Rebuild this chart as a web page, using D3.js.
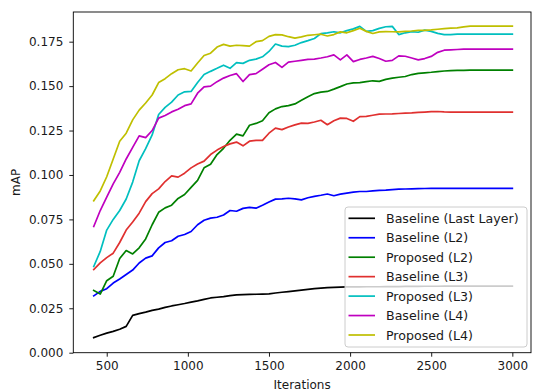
<!DOCTYPE html>
<html>
<head>
<meta charset="utf-8">
<script src="https://cdn.jsdelivr.net/npm/d3@7"></script>
<style>
  body { margin: 0; background: #fff; }
  svg { display: block; }
  text { font-family: "DejaVu Sans", sans-serif; fill: #1a1a1a; }
</style>
</head>
<body>
<svg id="chart" width="533" height="391"></svg>
<script>
// Training iterations at which mAP was evaluated
const iterations = [...d3.range(420, 2981, 40), 3000];

// mAP per iteration for each configuration
const baselineLast = [
  0.0085, 0.0098, 0.0110, 0.0120, 0.0132, 0.0148, 0.0210, 0.0220, 0.0228, 0.0238,
  0.0245, 0.0255, 0.0263, 0.0270, 0.0277, 0.0285, 0.0292, 0.0300, 0.0308, 0.0312,
  0.0316, 0.0321, 0.0325, 0.0327, 0.0328, 0.0329, 0.0330, 0.0331, 0.0336, 0.0340,
  0.0344, 0.0348, 0.0352, 0.0356, 0.0360, 0.0363, 0.0366, 0.0368, 0.0369, 0.0370,
  0.0370, 0.0370, 0.0371, 0.0371, 0.0371, 0.0372, 0.0372, 0.0372, 0.0373, 0.0373,
  0.0373, 0.0374, 0.0374, 0.0374, 0.0375, 0.0375, 0.0375, 0.0375, 0.0375, 0.0375,
  0.0375, 0.0375, 0.0375, 0.0375, 0.0375, 0.0375
];
const baselineL2 = [
  0.0320, 0.0345, 0.0360, 0.0392, 0.0415, 0.0440, 0.0465, 0.0505, 0.0532, 0.0545,
  0.0590, 0.0620, 0.0630, 0.0655, 0.0665, 0.0682, 0.0720, 0.0745, 0.0757, 0.0762,
  0.0775, 0.0800, 0.0796, 0.0812, 0.0818, 0.0813, 0.0830, 0.0848, 0.0864, 0.0866,
  0.0869, 0.0866, 0.0860, 0.0872, 0.0880, 0.0886, 0.0893, 0.0883, 0.0892, 0.0898,
  0.0903, 0.0907, 0.0907, 0.0910, 0.0913, 0.0915, 0.0918, 0.0920, 0.0921, 0.0922,
  0.0923, 0.0924, 0.0925, 0.0925, 0.0925, 0.0925, 0.0925, 0.0925, 0.0925, 0.0925,
  0.0925, 0.0925, 0.0925, 0.0925, 0.0925, 0.0925
];
const proposedL2 = [
  0.0350, 0.0330, 0.0405, 0.0430, 0.0530, 0.0575, 0.0556, 0.0590, 0.0640, 0.0720,
  0.0790, 0.0815, 0.0830, 0.0868, 0.0890, 0.0930, 0.0970, 0.1040, 0.1060, 0.1115,
  0.1150, 0.1195, 0.1230, 0.1220, 0.1280, 0.1290, 0.1305, 0.1350, 0.1372, 0.1385,
  0.1390, 0.1400, 0.1420, 0.1440, 0.1458, 0.1466, 0.1470, 0.1483, 0.1497, 0.1512,
  0.1518, 0.1520, 0.1525, 0.1530, 0.1527, 0.1538, 0.1545, 0.1550, 0.1554, 0.1565,
  0.1572, 0.1575, 0.1578, 0.1582, 0.1585, 0.1587, 0.1588, 0.1588, 0.1590, 0.1590,
  0.1590, 0.1590, 0.1590, 0.1590, 0.1590, 0.1590
];
const baselineL3 = [
  0.0468, 0.0505, 0.0535, 0.0560, 0.0620, 0.0690, 0.0735, 0.0785, 0.0850, 0.0895,
  0.0922, 0.0963, 0.0995, 0.0988, 0.1010, 0.1040, 0.1062, 0.1078, 0.1115, 0.1140,
  0.1160, 0.1175, 0.1185, 0.1164, 0.1190, 0.1195, 0.1195, 0.1235, 0.1264, 0.1255,
  0.1270, 0.1282, 0.1292, 0.1290, 0.1298, 0.1308, 0.1283, 0.1305, 0.1320, 0.1318,
  0.1302, 0.1328, 0.1330, 0.1336, 0.1342, 0.1343, 0.1344, 0.1346, 0.1348, 0.1349,
  0.1352, 0.1354, 0.1356, 0.1357, 0.1355, 0.1354, 0.1354, 0.1354, 0.1354, 0.1354,
  0.1354, 0.1354, 0.1354, 0.1354, 0.1354, 0.1354
];
const proposedL3 = [
  0.0485, 0.0570, 0.0690, 0.0750, 0.0800, 0.0865, 0.0960, 0.1080, 0.1148, 0.1225,
  0.1340, 0.1380, 0.1410, 0.1450, 0.1468, 0.1470, 0.1520, 0.1565, 0.1583, 0.1600,
  0.1618, 0.1600, 0.1632, 0.1628, 0.1645, 0.1652, 0.1665, 0.1695, 0.1737, 0.1725,
  0.1722, 0.1730, 0.1745, 0.1756, 0.1768, 0.1795, 0.1800, 0.1806, 0.1800, 0.1812,
  0.1822, 0.1836, 0.1808, 0.1812, 0.1825, 0.1834, 0.1836, 0.1790, 0.1800, 0.1807,
  0.1803, 0.1815, 0.1808, 0.1797, 0.1790, 0.1790, 0.1792, 0.1792, 0.1792, 0.1792,
  0.1792, 0.1792, 0.1792, 0.1792, 0.1792, 0.1792
];
const baselineL4 = [
  0.0710, 0.0800, 0.0875, 0.0950, 0.1015, 0.1090, 0.1155, 0.1220, 0.1210, 0.1250,
  0.1320, 0.1335, 0.1355, 0.1370, 0.1390, 0.1400, 0.1460, 0.1496, 0.1500, 0.1525,
  0.1545, 0.1560, 0.1570, 0.1526, 0.1565, 0.1570, 0.1595, 0.1620, 0.1633, 0.1605,
  0.1635, 0.1640, 0.1645, 0.1650, 0.1652, 0.1658, 0.1665, 0.1676, 0.1648, 0.1676,
  0.1638, 0.1650, 0.1658, 0.1667, 0.1655, 0.1640, 0.1645, 0.1670, 0.1668, 0.1658,
  0.1648, 0.1655, 0.1667, 0.1690, 0.1702, 0.1704, 0.1706, 0.1708, 0.1708, 0.1708,
  0.1708, 0.1708, 0.1708, 0.1708, 0.1708, 0.1708
];
const proposedL4 = [
  0.0855, 0.0910, 0.0990, 0.1090, 0.1190, 0.1235, 0.1310, 0.1365, 0.1405, 0.1450,
  0.1520, 0.1542, 0.1570, 0.1592, 0.1598, 0.1585, 0.1630, 0.1672, 0.1685, 0.1720,
  0.1735, 0.1725, 0.1730, 0.1728, 0.1725, 0.1750, 0.1756, 0.1780, 0.1790, 0.1788,
  0.1778, 0.1770, 0.1777, 0.1786, 0.1789, 0.1792, 0.1782, 0.1790, 0.1805, 0.1800,
  0.1812, 0.1826, 0.1808, 0.1796, 0.1805, 0.1807, 0.1806, 0.1805, 0.1808, 0.1810,
  0.1814, 0.1814, 0.1816, 0.1820, 0.1823, 0.1826, 0.1828, 0.1833, 0.1837, 0.1838,
  0.1838, 0.1838, 0.1838, 0.1838, 0.1838, 0.1838
];

const seriesNames = [
  "Baseline (Last Layer)", "Baseline (L2)", "Proposed (L2)", "Baseline (L3)",
  "Proposed (L3)", "Baseline (L4)", "Proposed (L4)"
];
const seriesValues = [baselineLast, baselineL2, proposedL2, baselineL3, proposedL3, baselineL4, proposedL4];
const seriesColors = ["#000000", "#0000ff", "#008000", "#e0302f", "#00bfbf", "#bf00bf", "#bfbf00"];

const xTicks = [500, 1000, 1500, 2000, 2500, 3000];
const yTicks = [0, 0.025, 0.05, 0.075, 0.1, 0.125, 0.15, 0.175];

// Plot area
const plot = { left: 73.3, right: 531, top: 12, bottom: 352.7 };
const svg = d3.select("#chart");

const x = d3.scaleLinear().domain([294, 3115]).range([plot.left, plot.right]);
const y = d3.scaleLinear().domain([0, 0.1917]).range([plot.bottom, plot.top]);

// Lines
const line = d3.line()
  .x((d, i) => x(iterations[i]))
  .y(d => y(d));

svg.append("g")
  .selectAll("path")
  .data(seriesValues)
  .join("path")
  .attr("fill", "none")
  .attr("stroke", (d, i) => seriesColors[i])
  .attr("stroke-width", 1.7)
  .attr("stroke-linejoin", "round")
  .attr("stroke-linecap", "square")
  .attr("d", line);

// Axes
const fontSize = "12px";
const xAxis = svg.append("g")
  .attr("transform", `translate(0,${plot.bottom})`)
  .call(d3.axisBottom(x).tickValues(xTicks).tickFormat(d3.format("d")).tickSize(4).tickPadding(5));
const yAxis = svg.append("g")
  .attr("transform", `translate(${plot.left},0)`)
  .call(d3.axisLeft(y).tickValues(yTicks).tickFormat(d3.format(".3f")).tickSize(4).tickPadding(6));

[xAxis, yAxis].forEach(g => {
  g.select(".domain").remove();
  g.selectAll(".tick line").attr("stroke", "#000").attr("stroke-width", 0.9);
  g.selectAll(".tick text")
    .attr("font-family", "DejaVu Sans, sans-serif")
    .attr("font-size", fontSize)
    .attr("fill", "#1a1a1a");
});

// Frame
svg.append("rect")
  .attr("x", plot.left)
  .attr("y", plot.top)
  .attr("width", plot.right - plot.left)
  .attr("height", plot.bottom - plot.top)
  .attr("fill", "none")
  .attr("stroke", "#000")
  .attr("stroke-width", 0.9);

// Axis titles
svg.append("text")
  .attr("x", (plot.left + plot.right) / 2)
  .attr("y", 388.5)
  .attr("text-anchor", "middle")
  .attr("font-size", fontSize)
  .text("Iterations");

svg.append("text")
  .attr("transform", `translate(20,${(plot.top + plot.bottom) / 2}) rotate(-90)`)
  .attr("text-anchor", "middle")
  .attr("font-size", fontSize)
  .text("mAP");

// Legend (lower right)
const legend = { left: 345, top: 207, width: 182, height: 140, firstRow: 11.3, rowStep: 19.45 };
const lg = svg.append("g").attr("transform", `translate(${legend.left},${legend.top})`);
lg.append("rect")
  .attr("width", legend.width)
  .attr("height", legend.height)
  .attr("rx", 3)
  .attr("fill", "#fff")
  .attr("fill-opacity", 0.8)
  .attr("stroke", "#cccccc")
  .attr("stroke-width", 1);

const rows = lg.selectAll("g.row")
  .data(seriesNames)
  .join("g")
  .attr("class", "row")
  .attr("transform", (d, i) => `translate(0,${legend.firstRow + i * legend.rowStep})`);
rows.append("line")
  .attr("x1", 3.5).attr("x2", 30)
  .attr("stroke", (d, i) => seriesColors[i])
  .attr("stroke-width", 1.7);
rows.append("text")
  .attr("x", 41)
  .attr("dy", "0.36em")
  .attr("font-size", "12.6px")
  .text(d => d);
</script>
</body>
</html>
